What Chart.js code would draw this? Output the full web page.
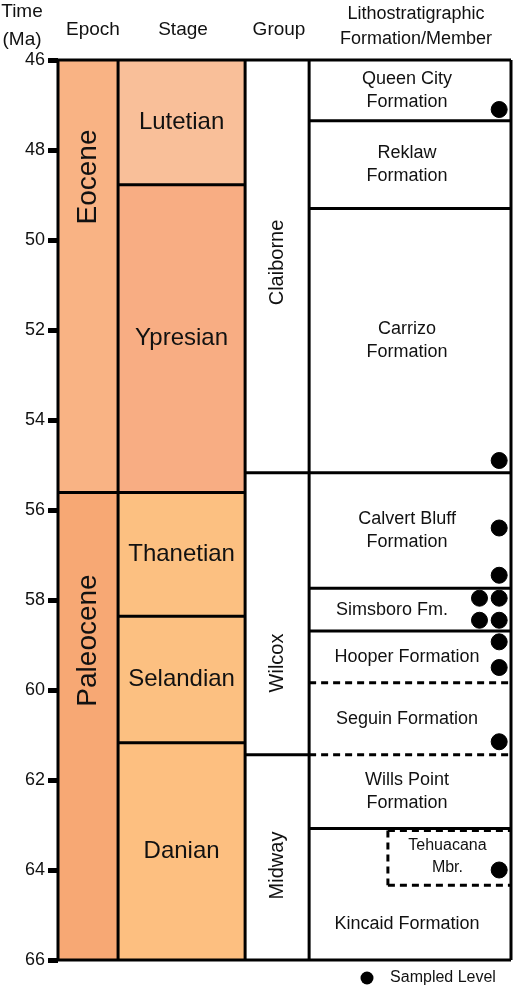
<!DOCTYPE html>
<html><head><meta charset="utf-8">
<script src="https://cdn.jsdelivr.net/npm/chart.js@4/dist/chart.umd.min.js"></script>
<style>html,body{margin:0;padding:0;background:#fff}#w{width:520px;height:988px;position:relative}</style>
</head><body><div id="w"><canvas id="c"></canvas></div>
<script>
// ---- data (Ma) ----
const epochs = ["Eocene","Paleocene"];
const epochTop = [46, 55.61];
const epochBase = [55.61, 66];
const epochColors = ["#F9B384","#F7A874"];
const stages = ["Lutetian","Ypresian","Thanetian","Selandian","Danian"];
const stageTop = [46, 48.77, 55.61, 58.36, 61.17];
const stageBase = [48.77, 55.61, 58.36, 61.17, 66];
const stageColors = ["#F9BF99","#F8AD83","#FCC081","#FCC081","#FDBF80"];
const groups = ["Claiborne","Wilcox","Midway"];
const groupTop = [46, 55.17, 61.44];
const groupBase = [55.17, 61.44, 66];
const formations = [["Queen City","Formation"],["Reklaw","Formation"],["Carrizo","Formation"],["Calvert Bluff","Formation"],["Simsboro Fm."],["Hooper Formation"],["Seguin Formation"],["Wills Point","Formation"],["Kincaid Formation"]];
const formTop = [46, 47.35, 49.30, 55.17, 57.74, 58.69, 59.84, 61.44, 63.08];
const formBase = [47.35, 49.30, 55.17, 57.74, 58.69, 59.84, 61.44, 63.08, 66];
const formDashedTop = [false,false,false,false,false,false,true,true,false];
const memberName = ["Tehuacana","Mbr."];
const memberTop = 63.12, memberBase = 64.34;
const sampleCol = [1,1,1,1,0,1,0,1,1,1,1,1];
const sampleAge = [47.1,54.9,56.4,57.45,57.96,57.96,58.45,58.45,58.93,59.5,61.15,64.0];
const yTicks = [46,48,50,52,54,56,58,60,62,64,66];

// layout (x units = px offset from axis)
const colEdges = [0,61,190,255,460];
const dotX = [428,448];
const W = 460;

const txt = (ctx,s,x,y,size,rot)=>{ctx.save();ctx.translate(x,y);if(rot)ctx.rotate(-Math.PI/2);ctx.font=size+'px "Liberation Sans", Arial, sans-serif';ctx.fillStyle='#111';ctx.textAlign='center';ctx.textBaseline='middle';ctx.fillText(s,0,0);ctx.restore();};

const strat = {
  id:'strat',
  beforeDatasetsDraw(chart){
    const {ctx,scales:{x,y}} = chart;
    const X = v=>x.getPixelForValue(v), Y = v=>y.getPixelForValue(v);
    ctx.save();
    ctx.lineWidth = 3; ctx.strokeStyle='#000';
    const box=(c0,c1,t,b,fill)=>{const x0=X(colEdges[c0]),x1=X(colEdges[c1]);ctx.fillStyle=fill;ctx.fillRect(x0,Y(t),x1-x0,Y(b)-Y(t));};
    epochs.forEach((e,i)=>box(0,1,epochTop[i],epochBase[i],epochColors[i]));
    stages.forEach((e,i)=>box(1,2,stageTop[i],stageBase[i],stageColors[i]));
    const line=(xa,xb,ya,yb,dash)=>{ctx.setLineDash(dash?[7,5]:[]);ctx.beginPath();ctx.moveTo(xa,ya);ctx.lineTo(xb,yb);ctx.stroke();};
    colEdges.forEach(c=>line(X(c),X(c),Y(46),Y(66)));
    line(X(0),X(W),Y(46),Y(46));
    line(X(0),X(W),Y(66),Y(66));
    line(X(colEdges[0]),X(colEdges[1]),Y(epochTop[1]),Y(epochTop[1]));
    stageTop.slice(1).forEach(t=>line(X(colEdges[1]),X(colEdges[2]),Y(t),Y(t)));
    groupTop.slice(1).forEach(t=>line(X(colEdges[2]),X(colEdges[3]),Y(t),Y(t)));
    formTop.slice(1).forEach((t,i)=>line(X(colEdges[3]),X(colEdges[4]),Y(t),Y(t),formDashedTop[i+1]));
    const mx=X(colEdges[3]+80);
    line(mx,X(W),Y(memberTop),Y(memberTop),true);
    line(mx,X(W),Y(memberBase),Y(memberBase),true);
    line(mx,mx,Y(memberTop),Y(memberBase),true);
    ctx.setLineDash([]);
    txt(ctx,"Eocene",(X(0)+X(61))/2,Y(48.6),28,true);
    txt(ctx,"Paleocene",(X(0)+X(61))/2,Y(58.9),28,true);
    stages.forEach((s,i)=>txt(ctx,s,(X(61)+X(190))/2,(Y(stageTop[i])+Y(stageBase[i]))/2,24));
    const gy=[Y(50.5),Y(59.4),Y(63.9)];
    groups.forEach((g,i)=>txt(ctx,g,(X(190)+X(255))/2,gy[i],20,true));
    formations.forEach((f,i)=>{
      let cx=(X(255)+X(W))/2-3, cy=(Y(formTop[i])+Y(formBase[i]))/2;
      if(i===4) cx-=15;
      if(i===8) cy=Y(65.2);
      f.forEach((l,k)=>txt(ctx,l,cx,cy+(k-(f.length-1)/2)*23,18));
    });
    memberName.forEach((l,k)=>txt(ctx,l,(mx+X(W))/2-2,Y(63.7)+(k-0.5)*22,16));
    txt(ctx,"Time",22,12,19); txt(ctx,"(Ma)",22,40,19);
    txt(ctx,"Epoch",93,30,19); txt(ctx,"Stage",183,30,19); txt(ctx,"Group",279,30,19);
    txt(ctx,"Lithostratigraphic",416,14,18); txt(ctx,"Formation/Member",416,39,18);
    ctx.fillStyle='#000';ctx.beginPath();ctx.arc(367,978,6.5,0,7);ctx.fill();
    txt(ctx,"Sampled Level",443,978,16);
    ctx.restore();
  }
};

new Chart(document.getElementById('c'),{
  type:'scatter',
  data:{datasets:[{data:sampleAge.map((a,i)=>({x:dotX[sampleCol[i]],y:a})),backgroundColor:'#000',borderColor:'#000',pointRadius:8,pointHoverRadius:8,clip:false}]},
  options:{
    responsive:true,maintainAspectRatio:false,animation:false,
    layout:{padding:{top:60,bottom:28,right:-6,left:0}},
    plugins:{legend:{display:false},tooltip:{enabled:false}},
    scales:{
      x:{type:'linear',min:0,max:W,display:false},
      y:{type:'linear',reverse:true,min:46,max:66,afterFit(s){s.width=58;},
         afterBuildTicks(s){s.ticks=yTicks.map(v=>({value:v}));},
         border:{display:false},
         grid:{drawOnChartArea:false,tickLength:10,tickWidth:5,color:'#000'},
         ticks:{color:'#111',font:{size:18,family:'"Liberation Sans", Arial'},padding:3}}
    }
  },
  plugins:[strat]
});
</script></body></html>
